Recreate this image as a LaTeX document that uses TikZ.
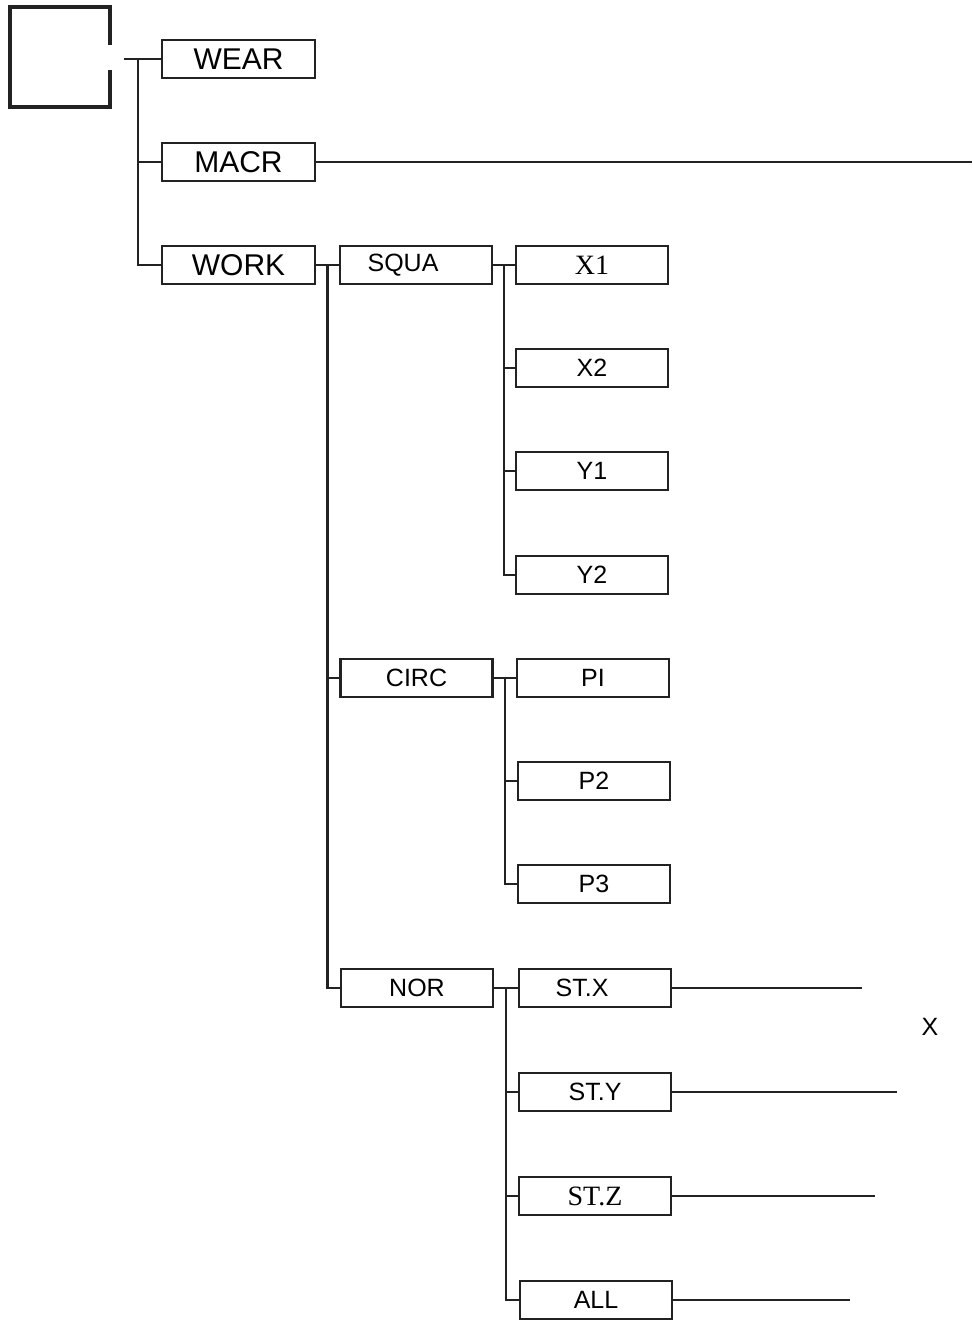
\documentclass[tikz,border=0pt]{standalone}
\usepackage{fontspec}
\setmainfont{Liberation Sans}
\newfontfamily\timesf{Liberation Serif}
\usetikzlibrary{calc}
\definecolor{ink}{HTML}{222222}
\tikzset{
  topbox/.style={draw=ink, line width=2.2pt, minimum width=153pt, minimum height=38pt, inner sep=0pt, font=\fontsize{30}{30}\selectfont},
  subbox/.style={draw=ink, line width=2.2pt, minimum width=152pt, minimum height=38pt, inner sep=0pt, font=\fontsize{25}{25}\selectfont},
  conn/.style={draw=ink, line width=2.2pt},
}
\begin{document}
\begin{tikzpicture}[x=1pt,y=-1pt]
\useasboundingbox (0,0) rectangle (972,1321);
% root box (gap on its right side)
\draw[draw=ink, line width=3.2pt] (110,45) -- (110,7) -- (10,7) -- (10,107) -- (110,107) -- (110,70);
\coordinate (rootout) at (124,59);
\coordinate (rootjoin) at (138,59);

\node[topbox] (wear) at (238.5,59) {WEAR};
\node[topbox] (macr) at (238.5,162) {MACR};
\node[topbox] (work) at (238.5,265) {WORK};

\node[subbox] (squa) at (416,265) {SQUA\kern26pt};
\node[subbox] (circ) at (416.5,678) {CIRC};
\node[subbox] (nor)  at (417,988) {NOR};

\node[subbox, font=\timesf\fontsize{28}{28}\selectfont] (x1) at (592,265) {X1};
\node[subbox] (x2) at (592,368) {X2};
\node[subbox] (y1) at (592,471) {Y1};
\node[subbox] (y2) at (592,575) {Y2};

\node[subbox] (p1) at (593,678) {PI};
\node[subbox] (p2) at (594,781) {P2};
\node[subbox] (p3) at (594,884) {P3};

\node[subbox] (stx) at (595,988) {ST.X\kern26pt};
\node[subbox] (sty) at (595,1092) {ST.Y};
\node[subbox, font=\timesf\fontsize{28}{28}\selectfont] (stz) at (595,1196) {ST.Z};
\node[subbox] (all) at (596,1300) {ALL};

\node[font=\fontsize{25}{25}\selectfont] (xlab) at (930,1027) {X};

% free ends of output lines
\coordinate (macrend) at (972,162);
\coordinate (stxend) at (862,988);
\coordinate (styend) at (897,1092);
\coordinate (stzend) at (875,1196);
\coordinate (allend) at (850,1300);

% root connectors
\draw[conn] (rootout) -- (wear.west);
\draw[conn] (rootjoin) |- (macr.west);
\draw[conn] (rootjoin) |- (work.west);

% WORK branch
\draw[conn] (work.east) -- (squa.west);
\coordinate (wj) at ($(work.east)!0.5!(squa.west)$);
\draw[conn] (wj) |- (circ.west);
\draw[conn] (wj) |- (nor.west);

% SQUA branch
\draw[conn] (squa.east) -- (x1.west);
\coordinate (sj) at ($(squa.east)!0.5!(x1.west)$);
\draw[conn] (sj) |- (x2.west);
\draw[conn] (sj) |- (y1.west);
\draw[conn] (sj) |- (y2.west);

% CIRC branch
\draw[conn] (circ.east) -- (p1.west);
\coordinate (cj) at ($(circ.east)!0.5!(p1.west)$);
\draw[conn] (cj) |- (p2.west);
\draw[conn] (cj) |- (p3.west);

% NOR branch
\draw[conn] (nor.east) -- (stx.west);
\coordinate (nj) at ($(nor.east)!0.5!(stx.west)$);
\draw[conn] (nj) |- (sty.west);
\draw[conn] (nj) |- (stz.west);
\draw[conn] (nj) |- (all.west);

% output lines
\draw[conn] (macr.east) -- (macrend);
\draw[conn] (stx.east) -- (stxend);
\draw[conn] (sty.east) -- (styend);
\draw[conn] (stz.east) -- (stzend);
\draw[conn] (all.east) -- (allend);
\end{tikzpicture}
\end{document}
